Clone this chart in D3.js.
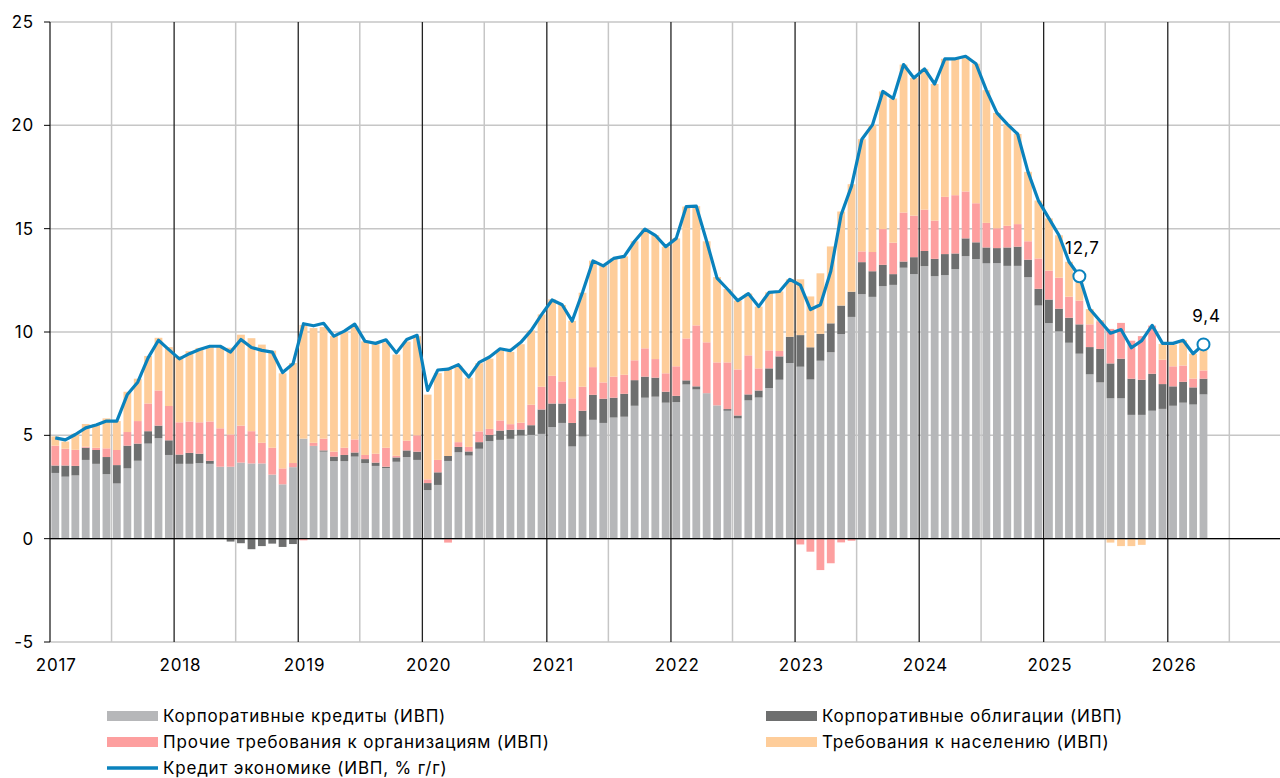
<!DOCTYPE html>
<html lang="ru">
<head>
<meta charset="utf-8">
<script src="https://cdn.jsdelivr.net/npm/d3@7"></script>
<style>
  body { margin: 0; background: #fff; }
  svg text { font-family: Inter, "Noto Sans", sans-serif; font-size: 17px; letter-spacing: 0.8px; fill: #000; }
</style>
</head>
<body>
<div id="chart"></div>
<script>
// months Jan 2017 .. Apr 2026
const months = d3.timeMonth.range(new Date(2017, 0, 1), new Date(2026, 4, 1));

const seriesNames = [
  "Корпоративные кредиты (ИВП)",
  "Корпоративные облигации (ИВП)",
  "Прочие требования к организациям (ИВП)",
  "Требования к населению (ИВП)"
];
const lineName = "Кредит экономике (ИВП, % г/г)";

const corpLoans = [
  3.18, 3.0, 3.06, 3.81, 3.62, 3.12, 2.67, 3.4, 3.77, 4.6, 4.86, 4.05,
  3.62, 3.62, 3.66, 3.62, 3.48, 3.48, 3.68, 3.64, 3.64, 3.1, 2.63, 3.46,
  4.84, 4.49, 4.21, 3.75, 3.75, 3.97, 3.66, 3.52, 3.42, 3.72, 3.95, 3.81,
  2.35, 2.6, 3.76, 4.18, 4.02, 4.35, 4.72, 4.78, 4.83, 4.99, 5.02, 5.07,
  5.4, 5.6, 4.46, 4.94, 5.75, 5.6, 5.86, 5.9, 6.43, 6.82, 6.87, 6.58,
  6.61, 7.46, 7.22, 7.04, 6.45, 6.19, 5.82, 6.69, 6.83, 7.29, 7.69, 8.5,
  8.32, 7.7, 8.61, 9.02, 9.9, 10.73, 11.83, 11.7, 12.22, 12.28, 13.11, 12.8,
  13.19, 12.7, 12.75, 13.04, 13.67, 13.53, 13.32, 13.33, 13.2, 13.2, 12.65, 11.28,
  10.43, 10.03, 9.48, 8.95, 7.95, 7.56, 6.79, 6.79, 5.99, 5.99, 6.19, 6.28,
  6.43, 6.58, 6.49, 6.98
];
const corpBonds = [
  0.36, 0.54, 0.46, 0.59, 0.67, 0.83, 0.89, 1.1, 0.83, 0.6, 0.61, 0.71,
  0.45, 0.53, 0.45, 0.15, 0.0, -0.14, -0.22, -0.51, -0.36, -0.24, -0.4, -0.26,
  0.0, 0.0, 0.06, 0.22, 0.3, 0.2, 0.19, 0.16, 0.06, 0.21, 0.32, 0.4,
  0.34, 0.61, 0.24, 0.26, 0.2, 0.32, 0.3, 0.45, 0.44, 0.29, 0.47, 1.18,
  1.14, 0.94, 1.14, 1.25, 1.21, 1.17, 0.96, 1.11, 1.24, 1.02, 0.92, 0.53,
  0.3, 0.2, 0.15, 0.0, -0.05, 0.08, 0.14, 0.29, 0.34, 0.95, 1.13, 1.27,
  1.53, 1.56, 1.3, 1.4, 1.38, 1.22, 1.55, 1.24, 1.03, 0.52, 0.3, 0.82,
  0.73, 0.84, 1.02, 0.76, 0.86, 0.81, 0.77, 0.73, 0.89, 0.93, 0.85, 0.81,
  1.14, 1.1, 1.21, 1.42, 1.32, 1.62, 1.69, 1.92, 1.75, 1.7, 1.79, 1.2,
  0.94, 1.01, 0.83, 0.76
];
const otherClaims = [
  0.96, 0.81, 0.78, 0.05, 0.11, 0.42, 0.73, 0.66, 1.09, 1.34, 1.7, 1.66,
  1.56, 1.52, 1.52, 1.9, 1.86, 1.56, 1.79, 1.56, 1.0, 1.3, 0.77, 0.2,
  -0.08, 0.15, 0.57, 0.24, 0.35, 0.63, 0.2, 0.43, 0.92, 0.08, 0.47, 0.79,
  0.18, 0.6, -0.19, 0.23, 0.22, 0.52, 0.29, 0.49, 0.27, 0.33, 0.99, 1.1,
  1.34, 1.07, 1.19, 1.16, 1.34, 0.79, 1.02, 0.92, 0.96, 1.37, 0.9, 0.89,
  1.43, 2.03, 2.95, 2.46, 2.08, 2.26, 2.23, 1.89, 1.07, 0.87, 0.26, 0.0,
  -0.28, -0.63, -1.52, -1.19, -0.18, -0.1, 0.52, 0.93, 1.73, 1.52, 2.37, 2.01,
  2.0, 1.85, 2.77, 2.82, 2.27, 1.89, 1.19, 0.96, 1.05, 1.09, 0.89, 1.47,
  1.4, 1.5, 1.02, 1.15, 1.1, 1.34, 1.67, 1.73, 1.84, 2.11, 2.33, 1.18,
  0.97, 0.79, 0.43, 0.4
];
const households = [
  0.45, 0.35, 0.78, 1.1, 1.15, 1.45, 1.4, 1.95, 2.05, 2.3, 2.55, 2.85,
  3.2, 3.4, 3.6, 3.65, 3.95, 4.2, 4.4, 4.5, 4.75, 4.7, 4.6, 4.84,
  5.5, 5.55, 5.4, 5.6, 5.6, 5.5, 5.5, 5.3, 5.1, 4.9, 4.8, 4.8,
  4.1, 4.2, 4.2, 3.7, 3.35, 3.3, 3.4, 3.4, 3.5, 3.8, 3.6, 3.5,
  3.7, 3.7, 3.75, 4.55, 5.15, 5.65, 5.72, 5.73, 5.76, 5.77, 6.0, 6.13,
  6.19, 6.38, 5.77, 4.89, 4.13, 3.55, 3.33, 2.99, 2.99, 2.81, 2.88, 2.78,
  2.7, 2.46, 2.93, 3.72, 4.55, 5.2, 5.43, 6.15, 6.66, 6.98, 7.16, 6.66,
  6.81, 6.61, 6.68, 6.6, 6.54, 6.75, 6.42, 5.58, 4.92, 4.36, 3.36, 2.8,
  2.53, 2.05, 1.69, 1.18, 0.74, 0.05, -0.19, -0.36, -0.36, -0.3, 0.0, 0.76,
  1.05, 1.22, 1.2, 1.25
];
const creditGrowth = [
  4.88, 4.78, 5.04, 5.36, 5.5, 5.69, 5.69, 6.98, 7.57, 8.75, 9.6, 9.15,
  8.7, 8.95, 9.15, 9.31, 9.31, 9.03, 9.64, 9.25, 9.11, 9.03, 8.04, 8.46,
  10.4, 10.3, 10.42, 9.8, 10.04, 10.38, 9.55, 9.45, 9.62, 8.99, 9.64, 9.84,
  7.17, 8.16, 8.2, 8.42, 7.82, 8.53, 8.79, 9.19, 9.1, 9.5, 10.08, 10.84,
  11.55, 11.32, 10.53, 11.92, 13.44, 13.2, 13.56, 13.66, 14.39, 14.98, 14.68, 14.13,
  14.53, 16.07, 16.09, 14.39, 12.61, 12.08, 11.52, 11.86, 11.23, 11.92, 11.96, 12.55,
  12.27, 11.09, 11.32, 12.94, 15.67, 17.06, 19.33, 20.02, 21.64, 21.3, 22.94, 22.29,
  22.73, 22.0, 23.22, 23.22, 23.34, 22.98, 21.7, 20.6, 20.06, 19.58, 17.75, 16.36,
  15.5, 14.68, 13.4, 12.7, 11.11, 10.53, 9.94, 10.12, 9.24, 9.58, 10.32, 9.45,
  9.45, 9.6, 8.95, 9.4
];
// labelled points (index into months)
const labelled = [99, 111];

const colors = ["#b6b7b9", "#6e6f6f", "#fd9f9f", "#fecd9a"];
const lineColor = "#0a82bd";

const yTicks = [-5, 0, 5, 10, 15, 20, 25];
const yearLabels = ["2017", "2018", "2019", "2020", "2021", "2022", "2023", "2024", "2025", "2026"];

const width = 1280, height = 778;
const svg = d3.select("#chart").append("svg")
  .attr("width", width).attr("height", height);

const x = d3.scaleTime()
  .domain([new Date(2017, 0, 1), new Date(2026, 10, 27)])
  .range([50, 1280]);
const y = d3.scaleLinear().domain([-5, 25]).range([642, 22]);

const mid = function (m) { return (x(m) + x(d3.timeMonth.offset(m, 1))) / 2; };

// horizontal grid
svg.append("g").selectAll("line").data(yTicks).enter().append("line")
  .attr("x1", 50).attr("x2", 1280)
  .attr("y1", d => y(d)).attr("y2", d => y(d))
  .attr("stroke", "#c6c6c6").attr("stroke-width", 1.5);

// half-year grid
const halfYears = yearLabels.map(d => new Date(+d, 6, 1));
svg.append("g").selectAll("line").data(halfYears).enter().append("line")
  .attr("x1", d => x(d)).attr("x2", d => x(d))
  .attr("y1", y(25)).attr("y2", y(-5))
  .attr("stroke", "#c6c6c6").attr("stroke-width", 1.5);

// stacked bars
const table = months.map((m, i) => ({
  month: m, a: corpLoans[i], b: corpBonds[i], c: otherClaims[i], d: households[i]
}));
const stack = d3.stack().keys(["a", "b", "c", "d"]).offset(d3.stackOffsetDiverging);
const layers = stack(table);
const barW = 7.8;

svg.append("g").selectAll("g").data(layers).enter().append("g")
  .attr("fill", (d, i) => colors[i])
  .selectAll("rect").data(d => d).enter().append("rect")
  .attr("x", d => mid(d.data.month) - barW / 2)
  .attr("width", barW)
  .attr("y", d => y(Math.max(d[0], d[1])))
  .attr("height", d => Math.abs(y(d[0]) - y(d[1])));

// year lines
const years = yearLabels.map(d => new Date(+d, 0, 1));
svg.append("g").selectAll("line").data(years).enter().append("line")
  .attr("x1", d => x(d)).attr("x2", d => x(d))
  .attr("y1", y(25)).attr("y2", y(-5))
  .attr("stroke", "#222").attr("stroke-width", 1.3);

// zero line
svg.append("line")
  .attr("x1", 50).attr("x2", 1280)
  .attr("y1", y(0)).attr("y2", y(0))
  .attr("stroke", "#000").attr("stroke-width", 1.3);

// y ticks and labels
const yAxis = svg.append("g");
yAxis.selectAll("line").data(yTicks).enter().append("line")
  .attr("x1", 44).attr("x2", 50)
  .attr("y1", d => y(d)).attr("y2", d => y(d))
  .attr("stroke", "#000");
yAxis.selectAll("text").data(yTicks).enter().append("text")
  .attr("x", 34).attr("y", d => y(d))
  .attr("dy", "0.35em")
  .attr("text-anchor", "end")
  .text(d => d);

// x labels
svg.append("g").selectAll("text").data(years).enter().append("text")
  .attr("x", d => mid(d) + 1)
  .attr("y", 671)
  .attr("text-anchor", "middle")
  .text((d, i) => yearLabels[i]);

// credit line
const line = d3.line()
  .x((d, i) => mid(months[i]))
  .y(d => y(d));
svg.append("path")
  .datum(creditGrowth)
  .attr("d", line)
  .attr("fill", "none")
  .attr("stroke", lineColor)
  .attr("stroke-width", 3.2)
  .attr("stroke-linejoin", "round");

// markers + value labels
svg.append("g").selectAll("circle").data(labelled).enter().append("circle")
  .attr("cx", i => mid(months[i]))
  .attr("cy", i => y(creditGrowth[i]))
  .attr("r", 6)
  .attr("fill", "#fff")
  .attr("stroke", lineColor)
  .attr("stroke-width", 2);
svg.append("g").selectAll("text").data(labelled).enter().append("text")
  .attr("x", i => mid(months[i]) + 3)
  .attr("y", i => y(creditGrowth[i]) - 22)
  .attr("text-anchor", "middle")
  .text(i => String(creditGrowth[i].toFixed(1)).replace(".", ","));

// legend
const legendItems = [
  { name: seriesNames[0], color: colors[0], x: 107, y: 716 },
  { name: seriesNames[1], color: colors[1], x: 766, y: 716 },
  { name: seriesNames[2], color: colors[2], x: 107, y: 742 },
  { name: seriesNames[3], color: colors[3], x: 766, y: 742 }
];
const legend = svg.append("g");
legend.selectAll("rect").data(legendItems).enter().append("rect")
  .attr("x", d => d.x).attr("y", d => d.y - 5)
  .attr("width", 51).attr("height", 10)
  .attr("fill", d => d.color);
legend.selectAll("text").data(legendItems).enter().append("text")
  .attr("x", d => d.x + 56).attr("y", d => d.y)
  .attr("dy", "0.35em")
  .text(d => d.name);
legend.append("line")
  .attr("x1", 107).attr("x2", 158)
  .attr("y1", 768).attr("y2", 768)
  .attr("stroke", lineColor).attr("stroke-width", 3.5);
legend.append("text")
  .attr("x", 163).attr("y", 768).attr("dy", "0.35em")
  .text(lineName);
</script>
</body>
</html>
